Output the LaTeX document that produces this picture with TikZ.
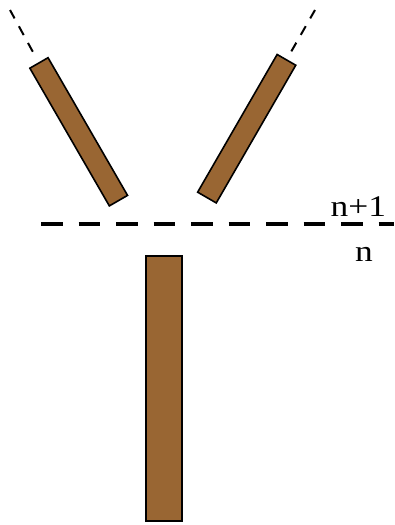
\documentclass[tikz,border=0pt]{standalone}
\usepackage{fontspec}
\setmainfont{Liberation Serif}
\usepackage{tikz}
\usetikzlibrary{positioning}
\definecolor{woodbrown}{RGB}{153, 102, 51}

\begin{document}
\begin{tikzpicture}[
    x=1pt, y=-1pt,
    bar/.style={rectangle, draw, line width=1.6pt, fill=woodbrown, inner sep=0pt},
    guide/.style={dashed, line width=2pt, dash pattern=on 10pt off 9pt},
    level/.style={line width=4.5pt, dash pattern=on 21.5pt off 16pt},
    label/.style={font=\fontsize{30}{36}\selectfont, inner sep=0pt, anchor=base, xscale=1.18}
]
    \useasboundingbox (0,0) rectangle (394,525);

    % Bars
    \node[bar, minimum width=21pt, minimum height=159pt, rotate=30] (leftbar) at (78.7,131.8) {};
    \node[bar, minimum width=21.5pt, minimum height=159pt, rotate=-30] (rightbar) at (246.7,128.7) {};
    \node[bar, minimum width=36.5pt, minimum height=265.5pt] (stem) at (164,388.5) {};

    % Guide lines
    \coordinate (leftend) at (10,10);
    \coordinate (rightend) at (315,10);
    \draw[guide, shorten <=12pt] (leftbar.north) -- (leftend);
    \draw[guide, shorten <=9pt] (rightbar.north) -- (rightend);

    % Level line
    \coordinate (levelstart) at (41,224);
    \coordinate (levelend) at (394,224);
    \draw[level] (levelstart) -- (levelend);

    % Labels
    \node[label] (upper) at (358.4,216.5) {n+1};
    \node[label] (lower) at (364,261) {n};
\end{tikzpicture}
\end{document}
